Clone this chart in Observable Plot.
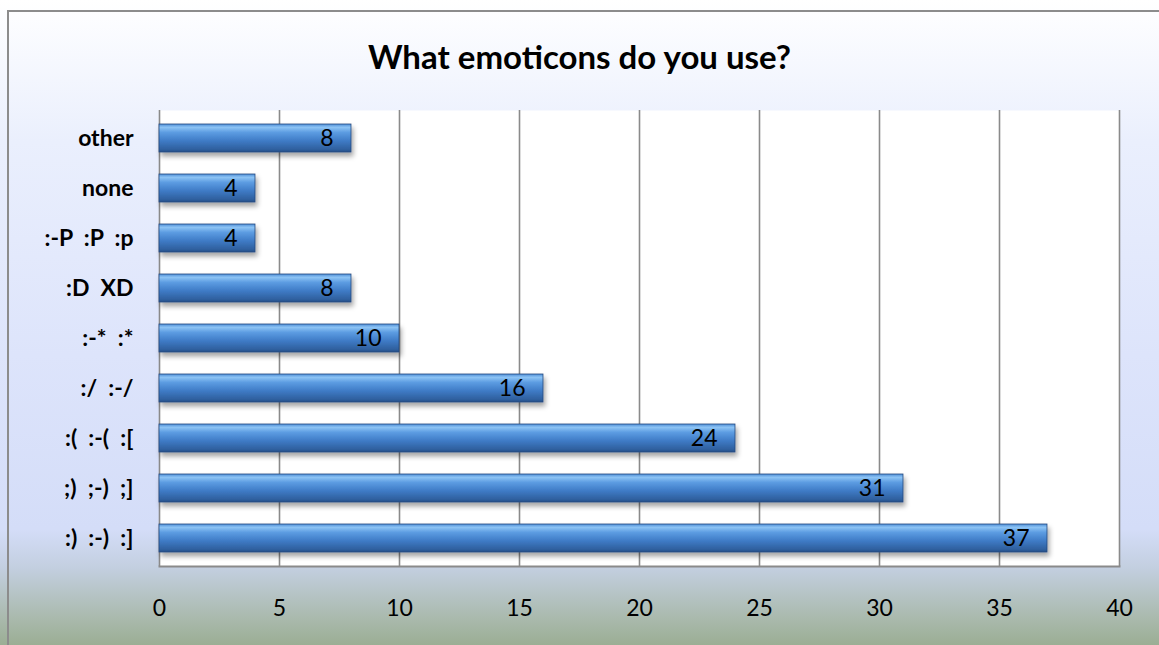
<!DOCTYPE html>
<html><head><meta charset="utf-8">
<script src="https://cdn.jsdelivr.net/npm/d3@7"></script>
<script src="https://cdn.jsdelivr.net/npm/@observablehq/plot@0.6"></script>
<style>
html,body{margin:0;padding:0;}
#wrap{position:relative;width:1159px;height:645px;overflow:hidden;
 background:linear-gradient(to bottom,#ffffff 0%,#eaeffd 22%,#dde4fb 55%,#d4ddf8 82%,#c3cfe0 88%,#a9b9ac 96%,#9bae94 100%);}
#border{position:absolute;left:7px;top:10px;width:1170px;height:660px;border:2px solid #8c8c8c;box-sizing:border-box;}
#title{position:absolute;left:0;width:1159px;top:36px;text-align:center;font-family:Lato,sans-serif;font-weight:bold;font-size:33px;line-height:40px;color:#000;}
#chart{position:absolute;left:0;top:0;}
#chart svg{white-space:pre;}
</style></head>
<body><div id="wrap"><div id="border"></div><div id="title">What emoticons do you use?</div><div id="chart"></div></div>
<script>
const categories = ["other","none",":-P  :P  :p",":D  XD",":-*  :*",":/  :-/",":(  :-(  :[",";)  ;-)  ;]",":)  :-)  :]"];
const counts = [8,4,4,8,10,16,24,31,37];
const xTicks = [0,5,10,15,20,25,30,35,40];
const data = categories.map((c,i)=>({cat:c,value:counts[i]}));

const plot = Plot.plot({
  width:1159, height:645,
  marginLeft:159, marginTop:110, marginRight:40, marginBottom:79,
  style:{background:"transparent",fontFamily:"Lato, sans-serif"},
  x:{domain:[0,40],ticks:xTicks,label:null},
  y:{domain:categories,paddingInner:0.445,paddingOuter:0.2225,label:null},
  marks:[
    Plot.frame({fill:"white",stroke:"none"}),
    Plot.ruleX(xTicks,{stroke:"#8a8a8a",strokeWidth:1.6}),
    Plot.frame({anchor:"bottom",stroke:"#8a8a8a",strokeWidth:2}),
    Plot.barX(data,{x:"value",y:"cat",fill:"url(#barGrad)",stroke:"#24497e",strokeWidth:0.8,
      render:(i,s,v,d,c,next)=>{const g=next(i,s,v,d,c);g.setAttribute("filter","url(#shadow)");return g;}}),
    Plot.text(data,{x:"value",y:"cat",text:d=>String(d.value),textAnchor:"end",dx:-18,fontSize:23,fill:"#000"}),
    Plot.axisX({ticks:xTicks,tickSize:0,tickPadding:0,fontSize:23,dy:33,fill:"#000",anchor:"bottom",label:null}),
    Plot.axisY({tickSize:0,tickPadding:26,fontSize:23,fontWeight:"bold",fill:"#000",label:null})
  ]
});
const svg = d3.select(plot);
const defs = svg.insert("defs",":first-child");
const lg = defs.append("linearGradient").attr("id","barGrad").attr("x1",0).attr("y1",0).attr("x2",0).attr("y2",1);
[[0,"#4f8fd8"],[0.12,"#8cc3f4"],[0.3,"#5c9ce2"],[0.6,"#3f7bc6"],[0.9,"#2f609f"],[1,"#27518a"]].forEach(([o,c])=>lg.append("stop").attr("offset",o).attr("stop-color",c));
const f = defs.append("filter").attr("id","shadow").attr("x","-5%").attr("y","-30%").attr("width","115%").attr("height","180%");
f.append("feDropShadow").attr("dx",2).attr("dy",4).attr("stdDeviation",2.5).attr("flood-color","#000").attr("flood-opacity",0.35);
document.getElementById("chart").appendChild(plot);
</script></body></html>
